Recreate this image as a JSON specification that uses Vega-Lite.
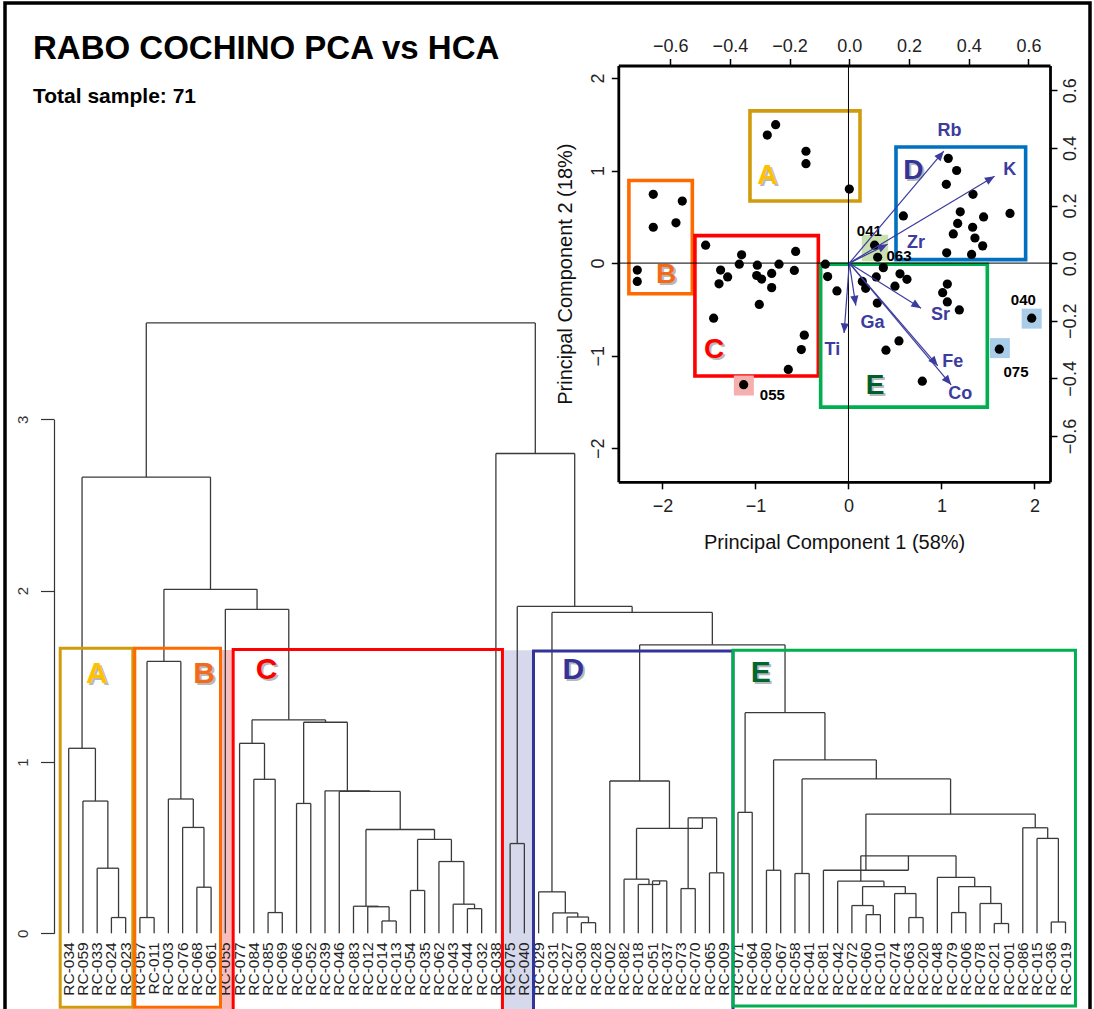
{
  "$schema": "https://vega.github.io/schema/vega-lite/v6.json",
  "width": 1085,
  "height": 1010,
  "autosize": {"type": "none"},
  "padding": {"left": 5, "top": 3, "right": 4, "bottom": -4},
  "background": "white",
  "view": {"stroke": "black", "strokeWidth": 3.5},
  "config": {"font": "Liberation Sans", "axis": {"grid": false}},
  "title": {
    "text": "RABO COCHINO PCA vs HCA",
    "subtitle": "Total sample: 71",
    "anchor": "start",
    "frame": "group",
    "orient": "top",
    "offset": -104,
    "dx": 28,
    "font": "Liberation Sans",
    "fontSize": 33,
    "fontWeight": "bold",
    "color": "#000000",
    "subtitleFont": "Liberation Sans",
    "subtitleFontSize": 21,
    "subtitleFontWeight": "bold",
    "subtitleColor": "#000000",
    "subtitlePadding": 20
  },
  "datasets": {
    "merges": [
      {"xl": 4, "xr": 5, "hl": 0, "hr": 0, "h": 0.092},
      {"xl": 3, "xr": 4.5, "hl": 0, "hr": 0.092, "h": 0.38},
      {"xl": 2, "xr": 3.75, "hl": 0, "hr": 0.38, "h": 0.772},
      {"xl": 1, "xr": 2.875, "hl": 0, "hr": 0.772, "h": 1.08},
      {"xl": 6, "xr": 7, "hl": 0, "hr": 0, "h": 0.092},
      {"xl": 10, "xr": 11, "hl": 0, "hr": 0, "h": 0.269},
      {"xl": 9, "xr": 10.5, "hl": 0, "hr": 0.269, "h": 0.618},
      {"xl": 8, "xr": 9.75, "hl": 0, "hr": 0.618, "h": 0.784},
      {"xl": 6.5, "xr": 8.875, "hl": 0.092, "hr": 0.784, "h": 1.587},
      {"xl": 15, "xr": 16, "hl": 0, "hr": 0, "h": 0.121},
      {"xl": 14, "xr": 15.5, "hl": 0, "hr": 0.121, "h": 0.899},
      {"xl": 13, "xr": 14.75, "hl": 0, "hr": 0.899, "h": 1.109},
      {"xl": 17, "xr": 18, "hl": 0, "hr": 0, "h": 0.758},
      {"xl": 23, "xr": 24, "hl": 0, "hr": 0, "h": 0.072},
      {"xl": 22, "xr": 23.5, "hl": 0, "hr": 0.072, "h": 0.155},
      {"xl": 21, "xr": 22.75, "hl": 0, "hr": 0.155, "h": 0.158},
      {"xl": 25, "xr": 26, "hl": 0, "hr": 0, "h": 0.25},
      {"xl": 29, "xr": 30, "hl": 0, "hr": 0, "h": 0.144},
      {"xl": 28, "xr": 29.5, "hl": 0, "hr": 0.144, "h": 0.17},
      {"xl": 27, "xr": 28.75, "hl": 0, "hr": 0.17, "h": 0.419},
      {"xl": 25.5, "xr": 27.875, "hl": 0.25, "hr": 0.419, "h": 0.548},
      {"xl": 21.875, "xr": 26.6875, "hl": 0.158, "hr": 0.548, "h": 0.606},
      {"xl": 20, "xr": 24.28125, "hl": 0, "hr": 0.606, "h": 0.828},
      {"xl": 19, "xr": 22.140625, "hl": 0, "hr": 0.828, "h": 0.832},
      {"xl": 17.5, "xr": 20.5703, "hl": 0.758, "hr": 0.832, "h": 1.232},
      {"xl": 13.875, "xr": 19.0352, "hl": 1.109, "hr": 1.232, "h": 1.246},
      {"xl": 12, "xr": 16.4551, "hl": 0, "hr": 1.246, "h": 1.891},
      {"xl": 7.6875, "xr": 14.2275, "hl": 1.587, "hr": 1.891, "h": 2.008},
      {"xl": 1.9375, "xr": 10.9575, "hl": 1.08, "hr": 2.008, "h": 2.663},
      {"xl": 32, "xr": 33, "hl": 0, "hr": 0, "h": 0.524},
      {"xl": 37, "xr": 38, "hl": 0, "hr": 0, "h": 0.062},
      {"xl": 36, "xr": 37.5, "hl": 0, "hr": 0.062, "h": 0.095},
      {"xl": 35, "xr": 36.75, "hl": 0, "hr": 0.095, "h": 0.119},
      {"xl": 34, "xr": 35.875, "hl": 0, "hr": 0.119, "h": 0.242},
      {"xl": 42, "xr": 43, "hl": 0, "hr": 0, "h": 0.306},
      {"xl": 41, "xr": 42.5, "hl": 0, "hr": 0.306, "h": 0.285},
      {"xl": 40, "xr": 41.75, "hl": 0, "hr": 0.285, "h": 0.316},
      {"xl": 44, "xr": 45, "hl": 0, "hr": 0, "h": 0.261},
      {"xl": 46, "xr": 47, "hl": 0, "hr": 0, "h": 0.353},
      {"xl": 44.5, "xr": 46.5, "hl": 0.261, "hr": 0.353, "h": 0.674},
      {"xl": 40.875, "xr": 45.5, "hl": 0.316, "hr": 0.674, "h": 0.612},
      {"xl": 39, "xr": 43.1875, "hl": 0, "hr": 0.612, "h": 0.889},
      {"xl": 48, "xr": 49, "hl": 0, "hr": 0, "h": 0.706},
      {"xl": 50, "xr": 51, "hl": 0, "hr": 0, "h": 0.368},
      {"xl": 52, "xr": 53, "hl": 0, "hr": 0, "h": 0.349},
      {"xl": 57, "xr": 58, "hl": 0, "hr": 0, "h": 0.109},
      {"xl": 56, "xr": 57.5, "hl": 0, "hr": 0.109, "h": 0.162},
      {"xl": 60, "xr": 61, "hl": 0, "hr": 0, "h": 0.092},
      {"xl": 59, "xr": 60.5, "hl": 0, "hr": 0.092, "h": 0.232},
      {"xl": 56.75, "xr": 59.75, "hl": 0.162, "hr": 0.232, "h": 0.273},
      {"xl": 55, "xr": 58.25, "hl": 0, "hr": 0.273, "h": 0.304},
      {"xl": 66, "xr": 67, "hl": 0, "hr": 0, "h": 0.057},
      {"xl": 65, "xr": 66.5, "hl": 0, "hr": 0.057, "h": 0.174},
      {"xl": 63, "xr": 64, "hl": 0, "hr": 0, "h": 0.121},
      {"xl": 63.5, "xr": 65.75, "hl": 0.121, "hr": 0.174, "h": 0.273},
      {"xl": 62, "xr": 64.625, "hl": 0, "hr": 0.273, "h": 0.326},
      {"xl": 56.625, "xr": 63.3125, "hl": 0.304, "hr": 0.326, "h": 0.452},
      {"xl": 54, "xr": 59.96875, "hl": 0, "hr": 0.452, "h": 0.368},
      {"xl": 70, "xr": 71, "hl": 0, "hr": 0, "h": 0.066},
      {"xl": 69, "xr": 70.5, "hl": 0, "hr": 0.066, "h": 0.554},
      {"xl": 68, "xr": 69.75, "hl": 0, "hr": 0.554, "h": 0.616},
      {"xl": 56.984, "xr": 68.875, "hl": 0.368, "hr": 0.616, "h": 0.696},
      {"xl": 52.5, "xr": 62.93, "hl": 0.349, "hr": 0.696, "h": 0.901},
      {"xl": 50.5, "xr": 57.715, "hl": 0.368, "hr": 0.901, "h": 1.012},
      {"xl": 48.5, "xr": 54.107, "hl": 0.706, "hr": 1.012, "h": 1.288},
      {"xl": 41.09375, "xr": 51.304, "hl": 0.889, "hr": 1.288, "h": 1.684},
      {"xl": 34.9375, "xr": 46.199, "hl": 0.242, "hr": 1.684, "h": 1.873},
      {"xl": 32.5, "xr": 40.568, "hl": 0.524, "hr": 1.873, "h": 1.908},
      {"xl": 31, "xr": 36.534, "hl": 0, "hr": 1.908, "h": 2.801},
      {"xl": 6.4475, "xr": 33.767, "hl": 2.663, "hr": 2.801, "h": 3.563}
    ],
    "leaves": [
      {"leaf": "RC-034", "u": 1}, {"leaf": "RC-059", "u": 2}, {"leaf": "RC-033", "u": 3}, {"leaf": "RC-024", "u": 4},
      {"leaf": "RC-023", "u": 5}, {"leaf": "RC-057", "u": 6}, {"leaf": "RC-011", "u": 7}, {"leaf": "RC-003", "u": 8},
      {"leaf": "RC-076", "u": 9}, {"leaf": "RC-068", "u": 10}, {"leaf": "RC-061", "u": 11}, {"leaf": "RC-055", "u": 12},
      {"leaf": "RC-077", "u": 13}, {"leaf": "RC-084", "u": 14}, {"leaf": "RC-085", "u": 15}, {"leaf": "RC-069", "u": 16},
      {"leaf": "RC-066", "u": 17}, {"leaf": "RC-052", "u": 18}, {"leaf": "RC-039", "u": 19}, {"leaf": "RC-046", "u": 20},
      {"leaf": "RC-083", "u": 21}, {"leaf": "RC-012", "u": 22}, {"leaf": "RC-014", "u": 23}, {"leaf": "RC-013", "u": 24},
      {"leaf": "RC-054", "u": 25}, {"leaf": "RC-035", "u": 26}, {"leaf": "RC-062", "u": 27}, {"leaf": "RC-043", "u": 28},
      {"leaf": "RC-044", "u": 29}, {"leaf": "RC-032", "u": 30}, {"leaf": "RC-038", "u": 31}, {"leaf": "RC-075", "u": 32},
      {"leaf": "RC-040", "u": 33}, {"leaf": "RC-029", "u": 34}, {"leaf": "RC-031", "u": 35}, {"leaf": "RC-027", "u": 36},
      {"leaf": "RC-030", "u": 37}, {"leaf": "RC-028", "u": 38}, {"leaf": "RC-002", "u": 39}, {"leaf": "RC-082", "u": 40},
      {"leaf": "RC-018", "u": 41}, {"leaf": "RC-051", "u": 42}, {"leaf": "RC-037", "u": 43}, {"leaf": "RC-073", "u": 44},
      {"leaf": "RC-070", "u": 45}, {"leaf": "RC-065", "u": 46}, {"leaf": "RC-009", "u": 47}, {"leaf": "RC-071", "u": 48},
      {"leaf": "RC-064", "u": 49}, {"leaf": "RC-080", "u": 50}, {"leaf": "RC-067", "u": 51}, {"leaf": "RC-058", "u": 52},
      {"leaf": "RC-041", "u": 53}, {"leaf": "RC-081", "u": 54}, {"leaf": "RC-042", "u": 55}, {"leaf": "RC-072", "u": 56},
      {"leaf": "RC-060", "u": 57}, {"leaf": "RC-010", "u": 58}, {"leaf": "RC-074", "u": 59}, {"leaf": "RC-063", "u": 60},
      {"leaf": "RC-020", "u": 61}, {"leaf": "RC-048", "u": 62}, {"leaf": "RC-079", "u": 63}, {"leaf": "RC-006", "u": 64},
      {"leaf": "RC-078", "u": 65}, {"leaf": "RC-021", "u": 66}, {"leaf": "RC-001", "u": 67}, {"leaf": "RC-086", "u": 68},
      {"leaf": "RC-015", "u": 69}, {"leaf": "RC-036", "u": 70}, {"leaf": "RC-019", "u": 71}
    ],
    "dshade": [
      {"s": "055", "u1": 11.77, "u2": 12.55, "h1": 1.654, "h2": -0.47},
      {"s": "075-040", "u1": 31.57, "u2": 33.6, "h1": 1.652, "h2": -0.47}
    ],
    "dboxes": [
      {"g": "A", "u1": 0.403, "u2": 5.502, "h1": 1.664, "h2": -0.432},
      {"g": "B", "u1": 5.642, "u2": 11.66, "h1": 1.664, "h2": -0.432},
      {"g": "C", "u1": 12.55, "u2": 31.46, "h1": 1.657, "h2": -0.47},
      {"g": "D", "u1": 33.64, "u2": 47.65, "h1": 1.648, "h2": -0.47},
      {"g": "E", "u1": 47.65, "u2": 71.7, "h1": 1.652, "h2": -0.424}
    ],
    "dletters": [
      {"g": "A", "u": 2.97, "h": 1.515},
      {"g": "B", "u": 10.5, "h": 1.512},
      {"g": "C", "u": 14.9, "h": 1.535},
      {"g": "D", "u": 36.44, "h": 1.535},
      {"g": "E", "u": 49.6, "h": 1.518}
    ],
    "pts": [
      {"p1": -0.783, "p2": 1.495}, {"p1": -0.873, "p2": 1.383}, {"p1": -0.457, "p2": 1.208}, {"p1": -0.457, "p2": 1.074}, {"p1": 0.009, "p2": 0.799},
      {"p1": -2.099, "p2": 0.743}, {"p1": -1.787, "p2": 0.67}, {"p1": -2.099, "p2": 0.387}, {"p1": -1.855, "p2": 0.435}, {"p1": -2.271, "p2": -0.075}, {"p1": -2.271, "p2": -0.198},
      {"p1": -1.536, "p2": 0.193}, {"p1": -1.149, "p2": 0.089}, {"p1": -0.568, "p2": 0.126}, {"p1": -1.174, "p2": -0.012}, {"p1": -0.98, "p2": -0.023},
      {"p1": -0.747, "p2": -0.012}, {"p1": -1.375, "p2": -0.075}, {"p1": -0.582, "p2": -0.079}, {"p1": -1.299, "p2": -0.149}, {"p1": -1.392, "p2": -0.224},
      {"p1": -0.987, "p2": -0.134}, {"p1": -0.934, "p2": -0.172}, {"p1": -0.826, "p2": -0.112}, {"p1": -0.826, "p2": -0.265}, {"p1": -0.959, "p2": -0.447},
      {"p1": -1.45, "p2": -0.595}, {"p1": -0.475, "p2": -0.778}, {"p1": -0.507, "p2": -0.934}, {"p1": -0.647, "p2": -1.149},
      {"p1": -1.127, "p2": -1.313},
      {"p1": 1.073, "p2": 1.131}, {"p1": 1.163, "p2": 1.0}, {"p1": 1.052, "p2": 0.851}, {"p1": 1.339, "p2": 0.743}, {"p1": 0.59, "p2": 0.509},
      {"p1": 1.202, "p2": 0.554}, {"p1": 1.453, "p2": 0.498}, {"p1": 1.737, "p2": 0.536}, {"p1": 1.174, "p2": 0.428}, {"p1": 1.335, "p2": 0.387},
      {"p1": 1.127, "p2": 0.315}, {"p1": 1.36, "p2": 0.271}, {"p1": 1.443, "p2": 0.186}, {"p1": 1.056, "p2": 0.111}, {"p1": 1.324, "p2": 0.093},
      {"p1": 0.281, "p2": 0.193}, {"p1": 0.314, "p2": 0.063},
      {"p1": -0.249, "p2": -0.012}, {"p1": 0.375, "p2": -0.049}, {"p1": -0.224, "p2": -0.146}, {"p1": 0.149, "p2": -0.198}, {"p1": 0.185, "p2": -0.272},
      {"p1": 0.299, "p2": -0.149}, {"p1": 0.554, "p2": -0.116}, {"p1": 0.5, "p2": -0.249}, {"p1": 0.629, "p2": -0.175}, {"p1": -0.124, "p2": -0.301},
      {"p1": 0.31, "p2": -0.432}, {"p1": 1.063, "p2": -0.227}, {"p1": 1.013, "p2": -0.32}, {"p1": 1.063, "p2": -0.42}, {"p1": 1.192, "p2": -0.506},
      {"p1": 0.543, "p2": -0.841}, {"p1": 0.403, "p2": -0.941}, {"p1": 0.794, "p2": -1.275},
      {"p1": 1.97, "p2": -0.595}, {"p1": 1.622, "p2": -0.93}
    ],
    "hlsmall": [
      {"k": "055", "p1": -1.125, "p2": -1.322},
      {"k": "075", "p1": 1.628, "p2": -0.918},
      {"k": "040", "p1": 1.97, "p2": -0.6}
    ],
    "hlgreen": [
      {"k": "041-063", "p1": 0.285, "p2": 0.163}
    ],
    "plabels": [
      {"t": "041", "p1": 0.224, "p2": 0.342},
      {"t": "063", "p1": 0.543, "p2": 0.075},
      {"t": "055", "p1": -0.819, "p2": -1.424},
      {"t": "040", "p1": 1.88, "p2": -0.394},
      {"t": "075", "p1": 1.801, "p2": -1.172}
    ],
    "pboxes": [
      {"g": "A", "p1a": -1.059, "p1b": 0.124, "p2a": 1.644, "p2b": 0.67},
      {"g": "B", "p1a": -2.361, "p1b": -1.679, "p2a": 0.892, "p2b": -0.331},
      {"g": "C", "p1a": -1.651, "p1b": -0.324, "p2a": 0.297, "p2b": -1.22},
      {"g": "D", "p1a": 0.511, "p1b": 1.905, "p2a": 1.253, "p2b": 0.037},
      {"g": "E", "p1a": -0.299, "p1b": 1.493, "p2a": -0.012, "p2b": -1.555}
    ],
    "pletters": [
      {"g": "A", "p1": -0.873, "p2": 0.937},
      {"g": "B", "p1": -1.962, "p2": -0.131},
      {"g": "C", "p1": -1.446, "p2": -0.941},
      {"g": "D", "p1": 0.697, "p2": 0.992},
      {"g": "E", "p1": 0.285, "p2": -1.332}
    ],
    "load": [
      {"v": "Rb", "L1": 0.3165, "L2": 0.3885, "T1": 0.3356, "T2": 0.4601},
      {"v": "K", "L1": 0.4868, "L2": 0.3013, "T1": 0.5373, "T2": 0.3226},
      {"v": "Zr", "L1": 0.1283, "L2": 0.0656, "T1": 0.2235, "T2": 0.0716},
      {"v": "Sr", "L1": 0.2403, "L2": -0.1567, "T1": 0.3053, "T2": -0.1806},
      {"v": "Fe", "L1": 0.2964, "L2": -0.3563, "T1": 0.3468, "T2": -0.3444},
      {"v": "Co", "L1": 0.3412, "L2": -0.4222, "T1": 0.3714, "T2": -0.4556},
      {"v": "Ga", "L1": 0.0218, "L2": -0.1472, "T1": 0.0779, "T2": -0.2069},
      {"v": "Ti", "L1": -0.0174, "L2": -0.2427, "T1": -0.0566, "T2": -0.3025}
    ]
  },
  "layer": [
    {
      "data": {"name": "dshade"},
      "mark": {"type": "rect", "stroke": null},
      "encoding": {
        "x": {"field": "u1", "type": "quantitative", "scale": {"domain": [1, 71], "range": [63.7, 1060.5], "nice": false, "zero": false}, "axis": null},
        "x2": {"field": "u2"},
        "y": {"field": "h1", "type": "quantitative", "scale": {"domain": [0, 3], "range": [930.3, 416.4], "nice": false, "zero": false},
          "axis": {"orient": "left", "offset": -49, "values": [0, 1, 2, 3], "title": null, "tickSize": 13.5, "labelAngle": -90, "labelFontSize": 15, "labelPadding": 10, "labelFont": "Liberation Sans", "labelColor": "#333333", "domainColor": "#333333", "tickColor": "#333333", "domainWidth": 1.2, "tickWidth": 1.2}},
        "y2": {"field": "h2"},
        "fill": {"field": "s", "type": "nominal", "scale": {"domain": ["055", "075-040"], "range": ["#F7BCBC", "#D6D8EB"]}, "legend": null}
      }
    },
    {
      "data": {"name": "merges"},
      "mark": {"type": "rule", "color": "#3a3a3a", "strokeWidth": 1.3},
      "encoding": {
        "x": {"field": "xl", "type": "quantitative", "scale": {"domain": [1, 71], "range": [63.7, 1060.5], "nice": false, "zero": false}, "axis": null},
        "x2": {"field": "xr"},
        "y": {"field": "h", "type": "quantitative", "scale": {"domain": [0, 3], "range": [930.3, 416.4], "nice": false, "zero": false}, "axis": null}
      }
    },
    {
      "data": {"name": "merges"},
      "mark": {"type": "rule", "color": "#3a3a3a", "strokeWidth": 1.3},
      "encoding": {
        "x": {"field": "xl", "type": "quantitative", "scale": {"domain": [1, 71], "range": [63.7, 1060.5], "nice": false, "zero": false}, "axis": null},
        "y": {"field": "hl", "type": "quantitative", "scale": {"domain": [0, 3], "range": [930.3, 416.4], "nice": false, "zero": false}, "axis": null},
        "y2": {"field": "h"}
      }
    },
    {
      "data": {"name": "merges"},
      "mark": {"type": "rule", "color": "#3a3a3a", "strokeWidth": 1.3},
      "encoding": {
        "x": {"field": "xr", "type": "quantitative", "scale": {"domain": [1, 71], "range": [63.7, 1060.5], "nice": false, "zero": false}, "axis": null},
        "y": {"field": "hr", "type": "quantitative", "scale": {"domain": [0, 3], "range": [930.3, 416.4], "nice": false, "zero": false}, "axis": null},
        "y2": {"field": "h"}
      }
    },
    {
      "data": {"name": "leaves"},
      "mark": {"type": "text", "angle": 270, "align": "right", "baseline": "middle", "dx": -9, "font": "Liberation Sans", "fontSize": 15.5, "color": "#222222"},
      "encoding": {
        "x": {"field": "u", "type": "quantitative", "scale": {"domain": [1, 71], "range": [63.7, 1060.5], "nice": false, "zero": false}, "axis": null},
        "y": {"datum": 0, "type": "quantitative", "scale": {"domain": [0, 3], "range": [930.3, 416.4], "nice": false, "zero": false}, "axis": null},
        "text": {"field": "leaf"}
      }
    },
    {
      "data": {"name": "dboxes"},
      "mark": {"type": "rect", "filled": false, "strokeWidth": 3},
      "encoding": {
        "x": {"field": "u1", "type": "quantitative", "scale": {"domain": [1, 71], "range": [63.7, 1060.5], "nice": false, "zero": false}, "axis": null},
        "x2": {"field": "u2"},
        "y": {"field": "h1", "type": "quantitative", "scale": {"domain": [0, 3], "range": [930.3, 416.4], "nice": false, "zero": false}, "axis": null},
        "y2": {"field": "h2"},
        "stroke": {"field": "g", "type": "nominal", "scale": {"domain": ["A", "B", "C", "D", "E"], "range": ["#D09B0C", "#FF6A00", "#FF0000", "#333399", "#00B050"]}, "legend": null}
      }
    },
    {
      "data": {"name": "dletters"},
      "mark": {"type": "text", "font": "Liberation Sans", "fontSize": 30, "fontWeight": "bold", "dx": 2, "dy": 2, "color": "#8c8c8c", "opacity": 0.6},
      "encoding": {
        "x": {"field": "u", "type": "quantitative", "scale": {"domain": [1, 71], "range": [63.7, 1060.5], "nice": false, "zero": false}, "axis": null},
        "y": {"field": "h", "type": "quantitative", "scale": {"domain": [0, 3], "range": [930.3, 416.4], "nice": false, "zero": false}, "axis": null},
        "text": {"field": "g"}
      }
    },
    {
      "data": {"name": "dletters"},
      "mark": {"type": "text", "font": "Liberation Sans", "fontSize": 30, "fontWeight": "bold"},
      "encoding": {
        "x": {"field": "u", "type": "quantitative", "scale": {"domain": [1, 71], "range": [63.7, 1060.5], "nice": false, "zero": false}, "axis": null},
        "y": {"field": "h", "type": "quantitative", "scale": {"domain": [0, 3], "range": [930.3, 416.4], "nice": false, "zero": false}, "axis": null},
        "text": {"field": "g"},
        "color": {"field": "g", "type": "nominal", "scale": {"domain": ["A", "B", "C", "D", "E"], "range": ["#FFC000", "#F26A1B", "#FF0000", "#333399", "#006633"]}, "legend": null}
      }
    },
    {
      "data": {"name": "pboxes"},
      "mark": {"type": "rect", "filled": false, "strokeWidth": 3.6},
      "encoding": {
        "x": {"field": "p1a", "type": "quantitative", "scale": {"domain": [-2.475, 2.167], "range": [613.3, 1045], "nice": false, "zero": false},
          "axis": {"orient": "bottom", "offset": -531.2, "values": [-2, -1, 0, 1, 2], "format": "d", "title": "Principal Component 1 (58%)", "titleFont": "Liberation Sans", "titleFontSize": 20, "titleFontWeight": "normal", "titleColor": "#111111", "titlePadding": 17, "labelFont": "Liberation Sans", "labelFontSize": 18, "labelColor": "#222222", "labelPadding": 9, "tickSize": 7, "tickColor": "#000000", "tickWidth": 1.5, "domainColor": "#000000", "domainWidth": 2.8}},
        "x2": {"field": "p1b"},
        "y": {"field": "p2a", "type": "quantitative", "scale": {"domain": [-2.362, 2.134], "range": [478.8, 62.5], "nice": false, "zero": false},
          "axis": {"orient": "left", "offset": -613.3, "values": [-2, -1, 0, 1, 2], "format": "d", "labelAngle": -90, "title": "Principal Component 2 (18%)", "titleFont": "Liberation Sans", "titleFontSize": 20, "titleFontWeight": "normal", "titleColor": "#111111", "titlePadding": 14, "labelFont": "Liberation Sans", "labelFontSize": 18, "labelColor": "#222222", "labelPadding": 4, "tickSize": 7, "tickColor": "#000000", "tickWidth": 1.5, "domainColor": "#000000", "domainWidth": 2.8}},
        "y2": {"field": "p2b"},
        "stroke": {"field": "g", "type": "nominal", "scale": {"domain": ["A", "B", "C", "D", "E"], "range": ["#D09B0C", "#FF6A00", "#FF0000", "#0070C0", "#00B050"]}, "legend": null}
      }
    },
    {
      "data": {"values": [{}]},
      "mark": {"type": "rule", "color": "#000000", "strokeWidth": 1},
      "encoding": {
        "x": {"datum": 0, "type": "quantitative", "scale": {"domain": [-2.475, 2.167], "range": [613.3, 1045], "nice": false, "zero": false}, "axis": null},
        "y": {"datum": -2.362, "type": "quantitative", "scale": {"domain": [-2.362, 2.134], "range": [478.8, 62.5], "nice": false, "zero": false}, "axis": null},
        "y2": {"datum": 2.134}
      }
    },
    {
      "data": {"values": [{}]},
      "mark": {"type": "rule", "color": "#000000", "strokeWidth": 1},
      "encoding": {
        "x": {"datum": -2.475, "type": "quantitative", "scale": {"domain": [-2.475, 2.167], "range": [613.3, 1045], "nice": false, "zero": false}, "axis": null},
        "x2": {"datum": 2.167},
        "y": {"datum": 0, "type": "quantitative", "scale": {"domain": [-2.362, 2.134], "range": [478.8, 62.5], "nice": false, "zero": false}, "axis": null}
      }
    },
    {
      "data": {"name": "hlgreen"},
      "mark": {"type": "point", "shape": "square", "filled": true, "size": 700, "color": "#BFDCA0", "opacity": 0.85},
      "encoding": {
        "x": {"field": "p1", "type": "quantitative", "scale": {"domain": [-2.475, 2.167], "range": [613.3, 1045], "nice": false, "zero": false}, "axis": null},
        "y": {"field": "p2", "type": "quantitative", "scale": {"domain": [-2.362, 2.134], "range": [478.8, 62.5], "nice": false, "zero": false}, "axis": null}
      }
    },
    {
      "data": {"name": "hlsmall"},
      "mark": {"type": "point", "shape": "square", "filled": true, "size": 400, "opacity": 1},
      "encoding": {
        "x": {"field": "p1", "type": "quantitative", "scale": {"domain": [-2.475, 2.167], "range": [613.3, 1045], "nice": false, "zero": false}, "axis": null},
        "y": {"field": "p2", "type": "quantitative", "scale": {"domain": [-2.362, 2.134], "range": [478.8, 62.5], "nice": false, "zero": false}, "axis": null},
        "fill": {"field": "k", "type": "nominal", "scale": {"domain": ["055", "075", "040"], "range": ["#F5AFAF", "#A9CCE8", "#A9CCE8"]}, "legend": null}
      }
    },
    {
      "data": {"name": "pts"},
      "mark": {"type": "point", "shape": "circle", "filled": true, "size": 85, "color": "#000000", "opacity": 1},
      "encoding": {
        "x": {"field": "p1", "type": "quantitative", "scale": {"domain": [-2.475, 2.167], "range": [613.3, 1045], "nice": false, "zero": false}, "axis": null},
        "y": {"field": "p2", "type": "quantitative", "scale": {"domain": [-2.362, 2.134], "range": [478.8, 62.5], "nice": false, "zero": false}, "axis": null}
      }
    },
    {
      "data": {"name": "plabels"},
      "mark": {"type": "text", "font": "Liberation Sans", "fontSize": 15, "fontWeight": "bold", "color": "#000000"},
      "encoding": {
        "x": {"field": "p1", "type": "quantitative", "scale": {"domain": [-2.475, 2.167], "range": [613.3, 1045], "nice": false, "zero": false}, "axis": null},
        "y": {"field": "p2", "type": "quantitative", "scale": {"domain": [-2.362, 2.134], "range": [478.8, 62.5], "nice": false, "zero": false}, "axis": null},
        "text": {"field": "t"}
      }
    },
    {
      "data": {"name": "pletters"},
      "mark": {"type": "text", "font": "Liberation Sans", "fontSize": 28, "fontWeight": "bold", "dx": 2, "dy": 2, "color": "#8c8c8c", "opacity": 0.6},
      "encoding": {
        "x": {"field": "p1", "type": "quantitative", "scale": {"domain": [-2.475, 2.167], "range": [613.3, 1045], "nice": false, "zero": false}, "axis": null},
        "y": {"field": "p2", "type": "quantitative", "scale": {"domain": [-2.362, 2.134], "range": [478.8, 62.5], "nice": false, "zero": false}, "axis": null},
        "text": {"field": "g"}
      }
    },
    {
      "data": {"name": "pletters"},
      "mark": {"type": "text", "font": "Liberation Sans", "fontSize": 28, "fontWeight": "bold"},
      "encoding": {
        "x": {"field": "p1", "type": "quantitative", "scale": {"domain": [-2.475, 2.167], "range": [613.3, 1045], "nice": false, "zero": false}, "axis": null},
        "y": {"field": "p2", "type": "quantitative", "scale": {"domain": [-2.362, 2.134], "range": [478.8, 62.5], "nice": false, "zero": false}, "axis": null},
        "text": {"field": "g"},
        "color": {"field": "g", "type": "nominal", "scale": {"domain": ["A", "B", "C", "D", "E"], "range": ["#FFC000", "#F26A1B", "#FF0000", "#333399", "#00602B"]}, "legend": null}
      }
    },
    {
      "data": {"name": "load"},
      "mark": {"type": "rule", "color": "#3C3C9E", "strokeWidth": 1.2},
      "encoding": {
        "x": {"field": "L1", "type": "quantitative", "scale": {"domain": [-0.7738, 0.6723], "range": [613.3, 1045], "nice": false, "zero": false},
          "axis": {"orient": "top", "offset": -62.5, "values": [-0.6, -0.4, -0.2, 0, 0.2, 0.4, 0.6], "format": ".1f", "title": null, "labelFont": "Liberation Sans", "labelFontSize": 18, "labelColor": "#222222", "labelPadding": 3, "tickSize": 7, "tickColor": "#000000", "tickWidth": 1.5, "domainColor": "#000000", "domainWidth": 2.8}},
        "x2": {"datum": 0},
        "y": {"field": "L2", "type": "quantitative", "scale": {"domain": [-0.759, 0.686], "range": [478.8, 62.5], "nice": false, "zero": false},
          "axis": {"orient": "right", "offset": -40, "values": [-0.6, -0.4, -0.2, 0, 0.2, 0.4, 0.6], "format": ".1f", "labelAngle": -90, "title": null, "labelFont": "Liberation Sans", "labelFontSize": 18, "labelColor": "#222222", "labelPadding": 4, "tickSize": 7, "tickColor": "#000000", "tickWidth": 1.5, "domainColor": "#000000", "domainWidth": 2.8}},
        "y2": {"datum": 0}
      }
    },
    {
      "data": {"name": "load"},
      "transform": [{"calculate": "90 - atan2(datum.L2 * 288, datum.L1 * 297.5) * 180 / PI", "as": "ang"}],
      "mark": {"type": "point", "shape": "M0,0L-0.42,1L0.42,1Z", "filled": true, "size": 380, "color": "#3C3C9E", "opacity": 1},
      "encoding": {
        "x": {"field": "L1", "type": "quantitative", "scale": {"domain": [-0.7738, 0.6723], "range": [613.3, 1045], "nice": false, "zero": false}, "axis": null},
        "y": {"field": "L2", "type": "quantitative", "scale": {"domain": [-0.759, 0.686], "range": [478.8, 62.5], "nice": false, "zero": false}, "axis": null},
        "angle": {"field": "ang", "type": "quantitative", "scale": null}
      }
    },
    {
      "data": {"name": "load"},
      "mark": {"type": "text", "font": "Liberation Sans", "fontSize": 18, "fontWeight": "bold", "color": "#3C3C9E"},
      "encoding": {
        "x": {"field": "T1", "type": "quantitative", "scale": {"domain": [-0.7738, 0.6723], "range": [613.3, 1045], "nice": false, "zero": false}, "axis": null},
        "y": {"field": "T2", "type": "quantitative", "scale": {"domain": [-0.759, 0.686], "range": [478.8, 62.5], "nice": false, "zero": false}, "axis": null},
        "text": {"field": "v"}
      }
    }
  ],
  "resolve": {
    "scale": {"x": "independent", "y": "independent", "color": "independent", "fill": "independent", "stroke": "independent"},
    "axis": {"x": "independent", "y": "independent"}
  }
}
